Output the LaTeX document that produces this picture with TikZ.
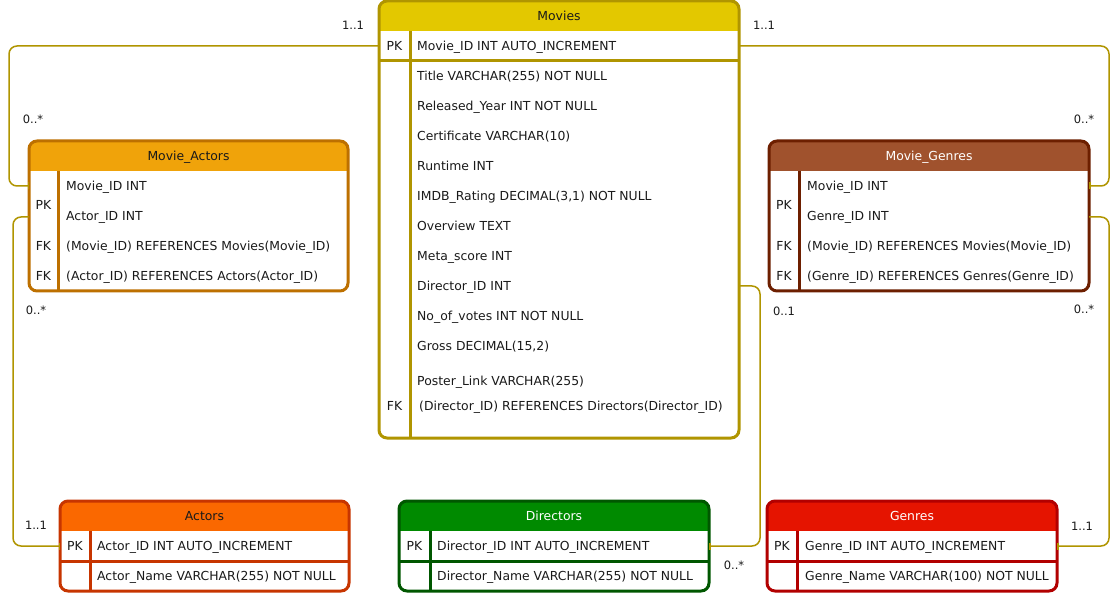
\documentclass[tikz,border=0pt]{standalone}
\usepackage{fontspec}
\setmainfont{DejaVu Sans}
\usetikzlibrary{arrows.meta}
\definecolor{movfill}{HTML}{E3C800}
\definecolor{movline}{HTML}{B09500}
\definecolor{mafill}{HTML}{F0A30A}
\definecolor{maline}{HTML}{BD7000}
\definecolor{mgfill}{HTML}{A0522D}
\definecolor{mgline}{HTML}{6D1F00}
\definecolor{actfill}{HTML}{FA6800}
\definecolor{actline}{HTML}{C73500}
\definecolor{dirfill}{HTML}{008A00}
\definecolor{dirline}{HTML}{005700}
\definecolor{genfill}{HTML}{E51400}
\definecolor{genline}{HTML}{B20000}
\definecolor{txt}{HTML}{1A1A1A}
\tikzset{
  fld/.style={anchor=west, inner sep=0pt, text height=10.5pt, text depth=1.5pt, text=txt, font=\fontsize{12.4}{14}\selectfont},
  keycol/.style={inner sep=0pt, text height=10.5pt, text depth=1.5pt, text=txt, font=\fontsize{12.4}{14}\selectfont},
  hdr/.style={inner sep=0pt, text height=10.5pt, text depth=1.5pt, font=\fontsize{12.4}{14}\selectfont},
  card/.style={inner sep=0pt, text height=8.5pt, text depth=0pt, text=txt, font=\fontsize{11.5}{13}\selectfont},
  rel/.style={draw=movline, line width=1.5pt, rounded corners=8pt, -{Bar[width=7pt,line width=1.5pt]}},
}
\newcommand{\ertable}[7]{%
  \begin{scope}
    \clip[rounded corners=8pt] (#1,#2) rectangle (#3,#4);
    \fill[white] (#1,#2) rectangle (#3,#4);
    \fill[#6] (#1,#2) rectangle (#3,#2+30);
  \end{scope}
  \draw[draw=#7, line width=3pt] (#5,#2+30) -- (#5,#4);
  \draw[draw=#7, line width=3pt, rounded corners=8pt] (#1,#2) rectangle (#3,#4);
}
\begin{document}
\begin{tikzpicture}[x=1pt, y=-1pt]
    \useasboundingbox[fill=white] (0,0) rectangle (1118,593);

    \ertable{379}{1}{739}{438}{410}{movfill}{movline}
    \draw[draw=movline, line width=3pt] (379,61) -- (739,61);
    \node[hdr, text=txt] (movies) at (559,16) {Movies};
    \node[keycol] (mvpk) at (394.5,46) {PK};
    \node[fld] (mvid) at (417,46) {Movie\_ID INT AUTO\_INCREMENT};
    \node[fld] (mvtitle) at (417,76) {Title VARCHAR(255) NOT NULL};
    \node[fld] (mvyear) at (417,106) {Released\_Year INT NOT NULL};
    \node[fld] (mvcert) at (417,136) {Certificate VARCHAR(10)};
    \node[fld] (mvrun) at (417,166) {Runtime INT};
    \node[fld] (mvimdb) at (417,196) {IMDB\_Rating DECIMAL(3,1) NOT NULL};
    \node[fld] (mvover) at (417,226) {Overview TEXT};
    \node[fld] (mvmeta) at (417,256) {Meta\_score INT};
    \node[fld] (mvdir) at (417,286) {Director\_ID INT};
    \node[fld] (mvvotes) at (417,316) {No\_of\_votes INT NOT NULL};
    \node[fld] (mvgross) at (417,346) {Gross DECIMAL(15,2)};
    \node[fld] (mvposter) at (417,381) {Poster\_Link VARCHAR(255)};
    \node[keycol] (mvfk) at (394.5,406) {FK};
    \node[fld] (mvref) at (419,406) {(Director\_ID) REFERENCES Directors(Director\_ID)};

    \ertable{29}{141}{348}{291}{58.5}{mafill}{maline}
    \node[hdr, text=txt] (movieactors) at (188.5,156) {Movie\_Actors};
    \node[keycol] (mapk) at (43.5,205) {PK};
    \node[fld] (mamov) at (66,186) {Movie\_ID INT};
    \node[fld] (maact) at (66,216) {Actor\_ID INT};
    \node[keycol] (mafk1) at (43.5,246) {FK};
    \node[fld] (maref1) at (66,246) {(Movie\_ID) REFERENCES Movies(Movie\_ID)};
    \node[keycol] (mafk2) at (43.5,276) {FK};
    \node[fld] (maref2) at (66,276) {(Actor\_ID) REFERENCES Actors(Actor\_ID)};

    \ertable{769}{141}{1089}{291}{799}{mgfill}{mgline}
    \node[hdr, text=white] (moviegenres) at (929,156) {Movie\_Genres};
    \node[keycol] (mgpk) at (784,205) {PK};
    \node[fld] (mgmov) at (807,186) {Movie\_ID INT};
    \node[fld] (mggen) at (807,216) {Genre\_ID INT};
    \node[keycol] (mgfk1) at (784,246) {FK};
    \node[fld] (mgref1) at (807,246) {(Movie\_ID) REFERENCES Movies(Movie\_ID)};
    \node[keycol] (mgfk2) at (784,276) {FK};
    \node[fld] (mgref2) at (807,276) {(Genre\_ID) REFERENCES Genres(Genre\_ID)};

    \ertable{60}{501}{349}{591}{90}{actfill}{actline}
    \draw[draw=actline, line width=3pt] (60,561) -- (349,561);
    \node[hdr, text=txt] (actors) at (204.5,516) {Actors};
    \node[keycol] (actpk) at (75,546) {PK};
    \node[fld] (actid) at (97,546) {Actor\_ID INT AUTO\_INCREMENT};
    \node[fld] (actname) at (97,576) {Actor\_Name VARCHAR(255) NOT NULL};

    \ertable{399}{501}{709}{591}{430}{dirfill}{dirline}
    \draw[draw=dirline, line width=3pt] (399,561) -- (709,561);
    \node[hdr, text=white] (directors) at (554,516) {Directors};
    \node[keycol] (dirpk) at (414.5,546) {PK};
    \node[fld] (dirid) at (437,546) {Director\_ID INT AUTO\_INCREMENT};
    \node[fld] (dirname) at (437,576) {Director\_Name VARCHAR(255) NOT NULL};

    \ertable{767}{501}{1057}{591}{797}{genfill}{genline}
    \draw[draw=genline, line width=3pt] (767,561) -- (1057,561);
    \node[hdr, text=white] (genres) at (912,516) {Genres};
    \node[keycol] (genpk) at (782,546) {PK};
    \node[fld] (genid) at (805,546) {Genre\_ID INT AUTO\_INCREMENT};
    \node[fld] (genname) at (805,576) {Genre\_Name VARCHAR(100) NOT NULL};

    \coordinate (mvL) at (379,46);
    \coordinate (mvR) at (739,46);
    \coordinate (mvD) at (739,286);
    \coordinate (maM) at (29,186);
    \coordinate (maA) at (29,217);
    \coordinate (mgM) at (1089,186);
    \coordinate (mgG) at (1089,217);
    \coordinate (actK) at (60,546);
    \coordinate (dirK) at (709,546);
    \coordinate (genK) at (1057,546);

    \draw[rel] (mvL) -- ++(-370,0) |- (maM);
    \draw[rel] (mvR) -- ++(370,0) |- (mgM);
    \draw[rel] (maA) -- ++(-16,0) |- (actK);
    \draw[rel] (mvD) -- ++(21,0) |- (dirK);
    \draw[rel] (mgG) -- ++(20,0) |- (genK);

    \node[card] (mvmaone) at (353,25) {1..1};
    \node[card] (mvmamany) at (33,119) {0..*};
    \node[card] (mvmgone) at (764,25) {1..1};
    \node[card] (mvmgmany) at (1084,119) {0..*};
    \node[card] (maactmany) at (36,310) {0..*};
    \node[card] (maactone) at (36,525) {1..1};
    \node[card] (mvdirone) at (784,311) {0..1};
    \node[card] (mvdirmany) at (734,565) {0..*};
    \node[card] (mggenmany) at (1084,309) {0..*};
    \node[card] (mggenone) at (1082,526) {1..1};
\end{tikzpicture}
\end{document}
